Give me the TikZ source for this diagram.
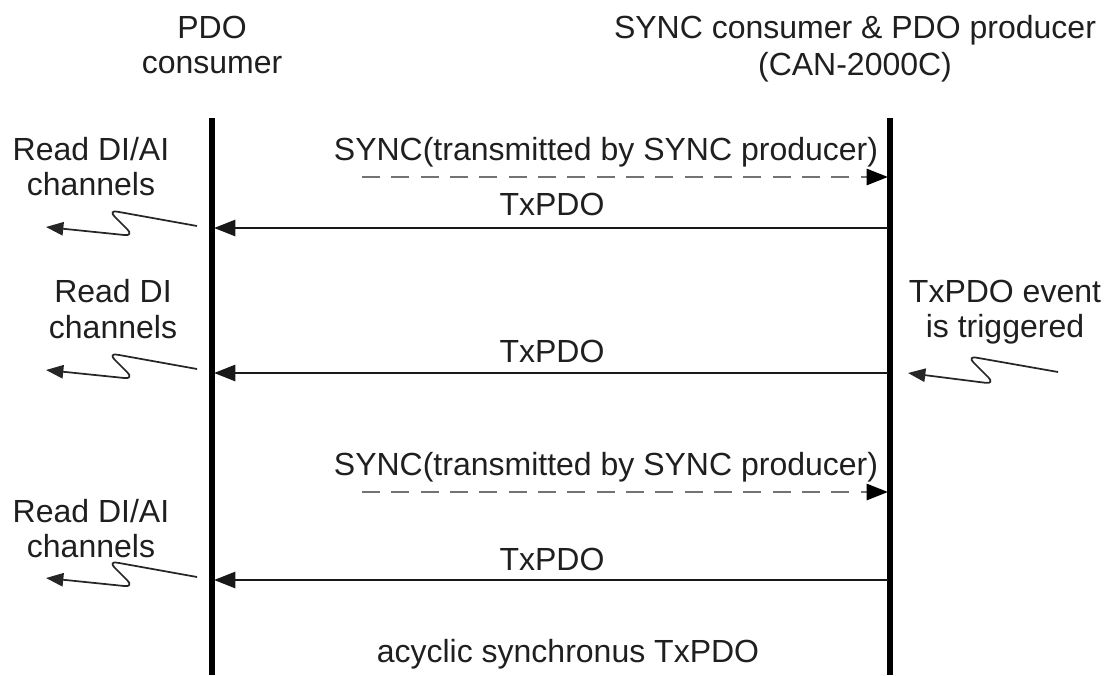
\documentclass[tikz,border=0pt]{standalone}
\usepackage{fontspec}
\setmainfont{Liberation Sans}
\usetikzlibrary{arrows.meta}
\begin{document}
\begin{tikzpicture}[x=0.75pt,y=-0.75pt,
  txt/.style={anchor=base,inner sep=0pt,text=black!88,font=\fontsize{24}{28}\selectfont},
  lifeline/.style={line width=5pt,black},
  msg/.style={line width=2pt,black!90,-{Triangle[length=16pt,width=12pt]}},
  syncmsg/.style={line width=2pt,black!55,dash pattern=on 13.5pt off 8.5pt,
     -{Triangle[length=16pt,width=12pt,fill=black,color=black]}},
  wave/.style={line width=1.3pt,black!85,rounded corners=7pt,-{Triangle[length=13pt,width=10pt]}}]
\useasboundingbox (0,0) rectangle (1107,675);
% lifelines
\coordinate (Ltop) at (212,118); \coordinate (Lbot) at (212,675);
\coordinate (Rtop) at (890,118); \coordinate (Rbot) at (890,675);
\draw[lifeline] (Ltop) -- (Lbot);
\draw[lifeline] (Rtop) -- (Rbot);
% headers
\node[txt] (h1a) at (212,38) {PDO};
\node[txt] (h1b) at (212,73) {consumer};
\node[txt] (h2a) at (855,38) {SYNC consumer \& PDO producer};
\node[txt] (h2b) at (855,75) {(CAN-2000C)};
% message 1
\node[txt] (s1) at (606,160) {SYNC(transmitted by SYNC producer)};
\coordinate (s1a) at (362,177); \coordinate (s1b) at (888,177);
\draw[syncmsg] (s1a) -- (s1b);
\node[txt] (t1) at (552,215) {TxPDO};
\coordinate (t1a) at (888,228); \coordinate (t1b) at (214,228);
\draw[msg] (t1a) -- (t1b);
% message 2
\node[txt] (t2) at (552,362) {TxPDO};
\coordinate (t2a) at (888,373); \coordinate (t2b) at (214,373);
\draw[msg] (t2a) -- (t2b);
% message 3
\node[txt] (s3) at (606,475) {SYNC(transmitted by SYNC producer)};
\coordinate (s3a) at (362,492); \coordinate (s3b) at (888,492);
\draw[syncmsg] (s3a) -- (s3b);
\node[txt] (t3) at (552,570) {TxPDO};
\coordinate (t3a) at (888,580); \coordinate (t3b) at (214,580);
\draw[msg] (t3a) -- (t3b);
% side labels
\node[txt] (r1a) at (91,160) {Read DI/AI};
\node[txt] (r1b) at (91,195) {channels};
\node[txt] (r2a) at (113,302) {Read DI};
\node[txt] (r2b) at (113,338) {channels};
\node[txt] (r3a) at (91,522) {Read DI/AI};
\node[txt] (r3b) at (91,557) {channels};
\node[txt] (ev1) at (1005,302) {TxPDO event};
\node[txt] (ev2) at (1005,337) {is triggered};
\node[txt] (ac) at (568,662) {acyclic synchronus TxPDO};
% waves
\coordinate (w1s) at (197,226); \coordinate (w1t) at (108,210); \coordinate (w1u) at (134,236); \coordinate (w1e) at (46,227);
\draw[wave] (w1s) -- (w1t) -- (w1u) -- (w1e);
\coordinate (w2s) at (197,369); \coordinate (w2t) at (108,353); \coordinate (w2u) at (134,379); \coordinate (w2e) at (46,370);
\draw[wave] (w2s) -- (w2t) -- (w2u) -- (w2e);
\coordinate (w3s) at (197,577); \coordinate (w3t) at (108,561); \coordinate (w3u) at (134,587); \coordinate (w3e) at (46,578);
\draw[wave] (w3s) -- (w3t) -- (w3u) -- (w3e);
\coordinate (w4s) at (1058,372); \coordinate (w4t) at (967,356); \coordinate (w4u) at (995,384); \coordinate (w4e) at (908,373);
\draw[wave] (w4s) -- (w4t) -- (w4u) -- (w4e);
\end{tikzpicture}
\end{document}
